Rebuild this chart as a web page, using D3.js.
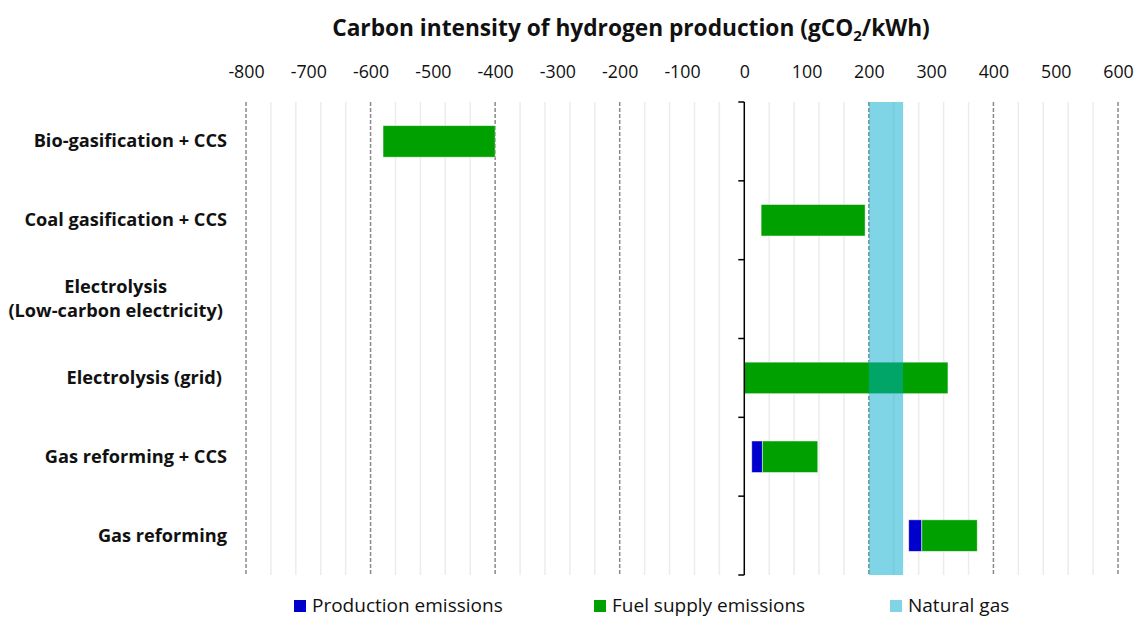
<!DOCTYPE html>
<html>
<head>
<meta charset="utf-8">
<script src="https://cdn.jsdelivr.net/npm/d3@7"></script>
<style>
  body { margin: 0; background: #fff; }
  svg text { font-family: "Open Sans", Lato, sans-serif; fill: #111; }
</style>
</head>
<body>
<div id="chart"></div>
<script>
// data (gCO2/kWh)
const categories = [
    "Bio-gasification + CCS",
    "Coal gasification + CCS",
    "Electrolysis\n(Low-carbon electricity)",
    "Electrolysis (grid)",
    "Gas reforming + CCS",
    "Gas reforming"
];
const productionLow  = [null, null, null, null, 12, 264];
const productionHigh = [null, null, null, null, 29, 285];
const fuelLow  = [-580, 27, null, 0, 29, 285];
const fuelHigh = [-400, 194, null, 327, 118, 374];
const naturalGas = [200, 255];
const tickValues = d3.range(-800, 601, 100);
const legendItems = ["Production emissions", "Fuel supply emissions", "Natural gas"];

const width = 1138, height = 617;
const prodFill = "#0000cc";
const fuelFill = "#00a000";
const gasFill = "rgb(0,169,205)";
const font = "'Open Sans', Lato, sans-serif";
const labelSize = 18.2;

const svg = d3.select("#chart").append("svg")
    .attr("width", width)
    .attr("height", height);

const plotTop = 102, plotBottom = 575;
const x = d3.scaleLinear().domain([-800, 600]).range([246, 1118]);
const y = d3.scaleBand().domain(categories).range([plotTop, plotBottom])
    .paddingInner(0.6).paddingOuter(0.3);

// title
const title = svg.append("text")
    .attr("x", 631).attr("y", 36)
    .attr("text-anchor", "middle")
    .attr("font-size", 22.7).attr("font-weight", "bold");
title.append("tspan").text("Carbon intensity of hydrogen production (gCO");
title.append("tspan").attr("font-size", 15).attr("dy", 5).text("2");
title.append("tspan").attr("dy", -5).text("/kWh)");

// top axis labels
const axis = svg.append("g")
    .attr("transform", "translate(0,81)")
    .call(d3.axisTop(x).tickValues(tickValues).tickSize(0).tickPadding(3).tickFormat(d => d.toString()));
axis.select(".domain").remove();
axis.selectAll("text").attr("font-size", 17.8).attr("font-family", font).attr("fill", "#111");

// gridlines
const grid = svg.append("g");
d3.range(-800, 601, 40).filter(v => v !== 0).forEach(v => {
    const major = v % 200 === 0;
    grid.append("line")
        .attr("x1", x(v)).attr("x2", x(v))
        .attr("y1", plotTop).attr("y2", plotBottom)
        .attr("stroke", major ? "#8a8a8a" : "#ececec")
        .attr("stroke-width", 1.5)
        .attr("stroke-dasharray", major ? "4,2" : null);
});

// bars
const bars = svg.append("g");
categories.forEach((c, i) => {
    if (productionLow[i] !== null) {
        bars.append("rect")
            .attr("x", x(productionLow[i]))
            .attr("width", x(productionHigh[i]) - x(productionLow[i]))
            .attr("y", y(c)).attr("height", y.bandwidth())
            .attr("fill", prodFill)
            .attr("stroke", "rgba(255,255,255,0.6)").attr("stroke-width", 0.8);
    }
    if (fuelLow[i] !== null) {
        bars.append("rect")
            .attr("x", x(fuelLow[i]))
            .attr("width", x(fuelHigh[i]) - x(fuelLow[i]))
            .attr("y", y(c)).attr("height", y.bandwidth())
            .attr("fill", fuelFill)
            .attr("stroke", "rgba(255,255,255,0.6)").attr("stroke-width", 0.8);
    }
});

// natural gas band
svg.append("rect")
    .attr("x", x(naturalGas[0]))
    .attr("width", x(naturalGas[1]) - x(naturalGas[0]))
    .attr("y", plotTop).attr("height", plotBottom - plotTop)
    .attr("fill", gasFill).attr("opacity", 0.5);

// y axis at zero
const yAxis = svg.append("g");
yAxis.append("line")
    .attr("x1", x(0)).attr("x2", x(0))
    .attr("y1", plotTop).attr("y2", plotBottom)
    .attr("stroke", "#000").attr("stroke-width", 1.5);
d3.range(0, categories.length + 1).forEach(i => {
    const yy = plotTop + i * y.step();
    yAxis.append("line")
        .attr("x1", x(0) - 6).attr("x2", x(0))
        .attr("y1", yy).attr("y2", yy)
        .attr("stroke", "#000").attr("stroke-width", 1.5);
});

// category labels
categories.forEach(c => {
    const cy = y(c) + y.bandwidth() / 2;
    const lines = c.split("\n");
    if (lines.length === 1) {
        svg.append("text")
            .attr("x", c === "Electrolysis (grid)" ? 222 : 227)
            .attr("y", cy + 6)
            .attr("text-anchor", "end")
            .attr("font-size", labelSize).attr("font-weight", "bold")
            .text(c);
    } else {
        const second = svg.append("text")
            .attr("x", 223).attr("y", cy + 18)
            .attr("text-anchor", "end")
            .attr("font-size", labelSize).attr("font-weight", "bold")
            .text(lines[1]);
        const w = second.node().getComputedTextLength();
        svg.append("text")
            .attr("x", 223 - w / 2).attr("y", cy - 6)
            .attr("text-anchor", "middle")
            .attr("font-size", labelSize).attr("font-weight", "bold")
            .text(lines[0]);
    }
});

// legend
const legendX = [294, 594, 890];
const legendColors = [prodFill, fuelFill, "#80d4e6"];
legendItems.forEach((name, i) => {
    svg.append("rect")
        .attr("x", legendX[i]).attr("y", 600)
        .attr("width", 12).attr("height", 12)
        .attr("fill", legendColors[i]);
    svg.append("text")
        .attr("x", legendX[i] + 18).attr("y", 612)
        .attr("font-size", 19)
        .attr("fill", "#222")
        .text(name);
});
</script>
</body>
</html>
